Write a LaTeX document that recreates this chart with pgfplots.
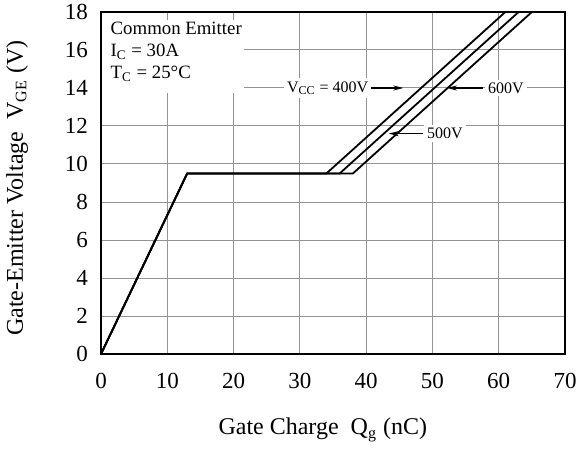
\documentclass[border=0pt]{standalone}
\usepackage{fontspec}
\setmainfont{Liberation Serif}
\usepackage{pgfplots}
\pgfplotsset{compat=1.18}
\usetikzlibrary{arrows.meta}

\begin{document}
\begin{tikzpicture}
\begin{axis}[
    scale only axis,
    width=232pt, height=171pt,
    xmin=0, xmax=70, ymin=0, ymax=18,
    xtick={0,10,...,70}, ytick={0,2,...,18},
    major tick length=0pt,
    grid=major,
    grid style={gray!85, line width=0.5pt},
    axis line style={line width=1pt},
    /pgf/number format/assume math mode=true,
    ticklabel style={font=\fontsize{11.5}{13}\selectfont},
    xticklabel style={yshift=-6pt},
    yticklabel style={xshift=-3pt},
    xlabel={Gate Charge\ \ Q\textsubscript{g} (nC)},
    ylabel={Gate-Emitter Voltage\ \ V\textsubscript{GE} (V)},
    label style={font=\fontsize{12}{14}\selectfont},
    xlabel style={at={(axis description cs:0.478,-0.222)}, anchor=center},
    ylabel style={at={(axis description cs:-0.181,0.485)}, anchor=center},
]
% V_CC = 400 V
\addplot[black, line width=0.9pt, no markers] coordinates {(0,0) (13,9.5) (34,9.5) (61,18)};
% V_CC = 500 V
\addplot[black, line width=0.9pt, no markers] coordinates {(0,0) (13,9.5) (36,9.5) (63,18)};
% V_CC = 600 V
\addplot[black, line width=0.9pt, no markers] coordinates {(0,0) (13,9.5) (38,9.5) (65,18)};

% white box behind the conditions text
\fill[white] (axis cs:0.2,17.6) rectangle (axis cs:21.6,13.75);
\node[align=left, anchor=north west, inner sep=2pt,
      font=\fontsize{9.4}{11}\selectfont]
    at (axis cs:0.8,17.7)
    {Common Emitter\\I\textsubscript{C} = 30A\\T\textsubscript{C} = 25°C};

\draw[-{Stealth[length=5pt,width=2.5pt]}, line width=0.6pt] (axis cs:40.3,14) -- (axis cs:45.6,14);
\draw[-{Stealth[length=5pt,width=2.5pt]}, line width=0.6pt] (axis cs:57.6,14) -- (axis cs:52.2,14);
\draw[-{Stealth[length=5pt,width=2.5pt]}, line width=0.6pt] (axis cs:48.6,11.6) -- (axis cs:43.4,11.6);

\node[fill=white, inner sep=1.5pt, font=\fontsize{8}{10}\selectfont]
    at (axis cs:34.2,14) {V\textsubscript{CC} = 400V};
\node[fill=white, inner sep=1.5pt, font=\fontsize{8}{10}\selectfont]
    at (axis cs:61.1,14) {600V};
\node[fill=white, inner sep=1.5pt, font=\fontsize{8}{10}\selectfont]
    at (axis cs:51.9,11.6) {500V};
\end{axis}
\pgfresetboundingbox
\path (-50.5pt,-47.5pt) rectangle (240pt,177pt);
\end{tikzpicture}
\end{document}
